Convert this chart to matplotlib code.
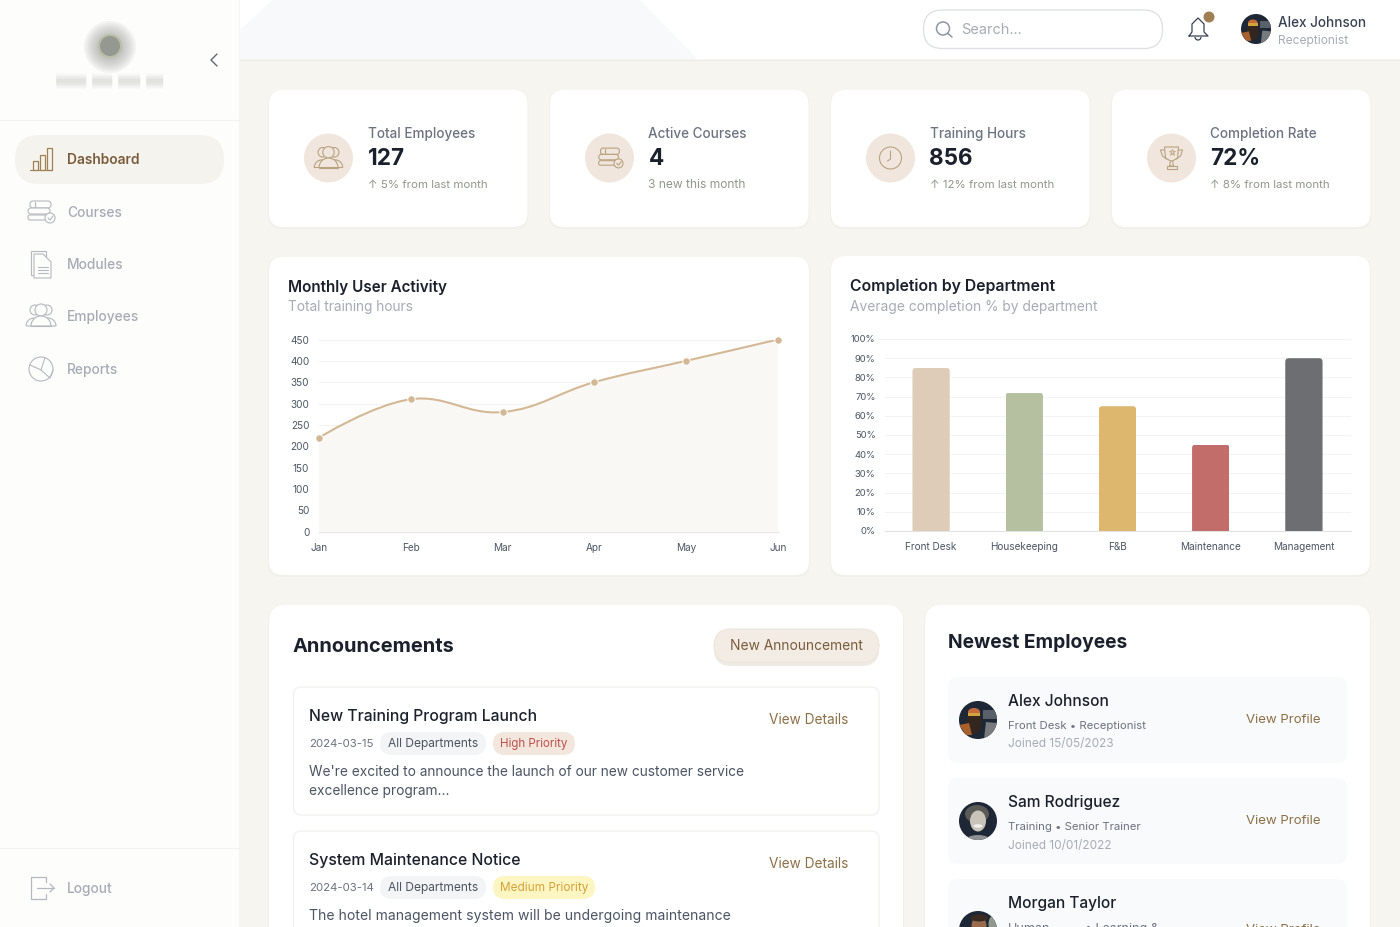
import matplotlib
matplotlib.use("Agg")
import matplotlib.pyplot as plt
import numpy as np
from matplotlib.patches import Circle, Ellipse, FancyBboxPatch, Polygon, Rectangle, Wedge, Arc
from matplotlib.path import Path
from matplotlib.patches import PathPatch

plt.rcParams["font.family"] = ["Inter", "DejaVu Sans"]

# chart data
months = ["Jan", "Feb", "Mar", "Apr", "May", "Jun"]
hours = [220, 310, 280, 350, 400, 450]
hour_ticks = [0, 50, 100, 150, 200, 250, 300, 350, 400, 450]

departments = ["Front Desk", "Housekeeping", "F&B", "Maintenance", "Management"]
completion = [85, 72, 65, 45, 90]
bar_colors = ["#dfccb8", "#b5c0a0", "#deb76f", "#c26d6a", "#6d6e72"]
pct_ticks = [0, 10, 20, 30, 40, 50, 60, 70, 80, 90, 100]

# page content
nav_items = ["Dashboard", "Courses", "Modules", "Employees", "Reports"]
stat_titles = ["Total Employees", "Active Courses", "Training Hours", "Completion Rate"]
stat_values = ["127", "4", "856", "72%"]
stat_notes = ["↑ 5% from last month", "3 new this month", "↑ 12% from last month", "↑ 8% from last month"]
employee_names = ["Alex Johnson", "Sam Rodriguez", "Morgan Taylor"]
employee_roles = ["Front Desk • Receptionist", "Training • Senior Trainer", "Human"]
employee_joined = ["Joined 15/05/2023", "Joined 10/01/2022", ""]

INK = "#1a202c"
GREY = "#6b7280"
PALE = "#a6abb6"
BROWN = "#8b6f47"
ICON = "#b9a27f"
NAV = "#b4b8c1"

fig = plt.figure(figsize=(14, 9.27), dpi=100, facecolor="#f6f5f0")
page = fig.add_axes([0, 0, 1, 1])
page.set_xlim(0, 1400)
page.set_ylim(927, 0)
page.axis("off")


def box(x0, y0, x1, y1, r, fc="white", ec="none", lw=1, z=1):
    p = FancyBboxPatch((x0, y0), x1 - x0, y1 - y0, boxstyle=f"round,pad=0,rounding_size={r}",
                       fc=fc, ec=ec, lw=lw, zorder=z)
    page.add_patch(p)
    return p


def card(x0, y0, x1, y1, r=14):
    box(x0 - 1, y0, x1 + 1, y1 + 2, r, fc="#f1f0ea", z=1)
    box(x0, y0, x1, y1, r, fc="white", z=2)


def label(x, y, s, px, color=INK, weight="normal", ha="left"):
    # inter sits about a pixel higher than the reference face
    page.text(x, y + 1, s, fontsize=px * 0.72, color=color, fontweight=weight, ha=ha, va="center",
              zorder=6, clip_on=True)


def stroke(xs, ys, color, lw=0.8, z=5):
    page.plot(xs, ys, color=color, lw=lw, zorder=z, solid_capstyle="round", solid_joinstyle="round")


def ring(x, y, r, color, lw=0.8, fc="none", z=5):
    page.add_patch(Circle((x, y), r, fc=fc, ec=color, lw=lw, zorder=z))


def icon_bars(x, y, c, s=1.0):
    stroke([x - 11 * s, x + 11 * s], [y + 11 * s, y + 11 * s], c)
    for dx, h in [(-8, 9), (-1, 15), (6, 22)]:
        page.add_patch(Rectangle((x + dx * s, y + 11 * s - h * s), 5 * s, h * s, fc="none", ec=c, lw=0.9, zorder=5))


def icon_books(x, y, c, s=1.0):
    bg = "#fdfdfb" if s == 1.0 else "#f0e6dd"
    box(x - 10 * s, y - 11 * s, x + 11 * s, y - 4 * s, 3 * s, fc=bg, ec=c, lw=0.8, z=5)
    box(x - 12 * s, y - 4 * s, x + 10 * s, y + 2 * s, 3 * s, fc=bg, ec=c, lw=0.8, z=5)
    box(x - 12 * s, y + 3 * s, x + 11 * s, y + 8 * s, 2 * s, fc=bg, ec=c, lw=0.8, z=5)
    stroke([x - 5 * s, x - 5 * s], [y - 10 * s, y - 5 * s], c)
    ring(x + 10 * s, y + 6 * s, 5 * s, c, fc=bg, z=6)
    stroke([x + 8 * s, x + 10 * s, x + 13 * s], [y + 6 * s, y + 8 * s, y + 4 * s], c, z=7)


def icon_doc(x, y, c):
    page.add_patch(Rectangle((x - 10, y - 13), 15, 24, fc="none", ec=c, lw=0.8, zorder=5))
    page.add_patch(Polygon([(x - 7, y - 10), (x + 2, y - 10), (x + 10, y - 2), (x + 10, y + 14), (x - 7, y + 14)],
                           fc="#fdfdfb", ec=c, lw=0.8, zorder=6))
    for dy in [3, 6, 9]:
        stroke([x - 3, x + 7], [y + dy, y + dy], c, z=7)


def icon_people(x, y, c, s=1.0):
    bg = "#fdfdfb" if s == 1.0 else "#f0e6dd"
    for dx, r in [(-6, 5), (6, 5), (0, 6)]:
        ring(x + dx * s, y - 6 * s, r * s, c, fc=bg)
    for dx, w in [(-7, 8), (7, 8), (0, 10)]:
        page.add_patch(Wedge((x + dx * s, y + 10 * s), w * s, 180, 360, fc=bg, ec=c, lw=0.8, zorder=6))
    stroke([x - 10 * s, x + 10 * s], [y + 10 * s, y + 10 * s], c, z=7)


def icon_pie(x, y, c):
    ring(x, y, 12, c)
    stroke([x - 11, x, x + 4], [y - 4, y + 1, y - 11.5], c)
    stroke([x, x + 9, x + 12], [y + 1, y + 9, y + 1], c)


def icon_clock(x, y, c):
    ring(x, y, 11, c)
    stroke([x, x, x - 3], [y - 7, y + 1, y + 3], c)


def icon_trophy(x, y, c):
    page.add_patch(Polygon([(x - 7, y - 11), (x + 7, y - 11), (x + 6, y), (x + 1, y + 3), (x - 1, y + 3), (x - 6, y)],
                           fc="none", ec=c, lw=0.8, zorder=5))
    stroke([x - 7, x - 11, x - 9, x - 5], [y - 8, y - 8, y - 2, y + 1], c)
    stroke([x + 7, x + 11, x + 9, x + 5], [y - 8, y - 8, y - 2, y + 1], c)
    stroke([x - 1, x - 2, x + 2, x + 1], [y + 3, y + 8, y + 8, y + 3], c)
    page.add_patch(Rectangle((x - 5, y + 8), 10, 3, fc="none", ec=c, lw=0.8, zorder=5))
    page.plot([x], [y - 6], marker="*", ms=5, mfc="none", mec=c, mew=0.6, zorder=5)


def avatar(x, y, r, kind):
    page.add_patch(Circle((x, y), r, fc="#1d2735", ec="none", zorder=5))
    clip = Circle((x, y), r, transform=page.transData)
    k = r / 19
    if kind == "alex":
        shapes = [Rectangle((x + 5 * k, y - 10 * k), 14 * k, 9 * k, fc="#59606a"),
                  Polygon([(x + 6 * k, y + 19 * k), (x + 8 * k, y + 2 * k), (x + 19 * k, y + 3 * k), (x + 19 * k, y + 19 * k)], fc="#777b7f"),
                  Ellipse((x - 4 * k, y + 2 * k), 15 * k, 24 * k, fc="#33261f"),
                  Ellipse((x - 4 * k, y - 8 * k), 12 * k, 8 * k, fc="#c66a3a"),
                  Rectangle((x - 10 * k, y - 7 * k), 12 * k, 3 * k, fc="#d2a23c"),
                  Polygon([(x - 19 * k, y + 5 * k), (x - 9 * k, y + 3 * k), (x - 6 * k, y + 15 * k), (x - 12 * k, y + 15 * k)], fc="#a8602c")]
    elif kind == "sam":
        shapes = [Ellipse((x - 1 * k, y - 7 * k), 24 * k, 18 * k, fc="#5a5a56"),
                  Ellipse((x, y), 16 * k, 21 * k, fc="#c9c4ba"),
                  Ellipse((x, y + 5 * k), 9 * k, 3.5 * k, fc="#f2f0ec"),
                  Ellipse((x, y + 20 * k), 26 * k, 12 * k, fc="#8f9094")]
    else:
        shapes = [Ellipse((x + 1 * k, y - 4 * k), 15 * k, 20 * k, fc="#9a6a4c"),
                  Ellipse((x + 1 * k, y - 12 * k), 17 * k, 7 * k, fc="#3a2a22"),
                  Ellipse((x + 15 * k, y - 6 * k), 9 * k, 16 * k, fc="#8f9a8c")]
    for sh in shapes:
        sh.set_zorder(6)
        page.add_patch(sh)
        sh.set_clip_path(clip)


# sidebar and top bar
page.add_patch(Rectangle((0, 0), 239, 927, fc="#fdfdfb", ec="none", zorder=0.5))
page.add_patch(Rectangle((240, 0), 1160, 59, fc="white", ec="none", zorder=0.5))
page.add_patch(Polygon([(240, 59), (240, 30), (272, 0), (640, 0), (697, 59)], fc="#f8f9fb", ec="none", zorder=0.6))
stroke([240, 1400], [59.5, 59.5], "#ebebe8", lw=0.8, z=0.7)
stroke([0, 239], [120, 120], "#f1f1f4", lw=0.8, z=0.7)
stroke([0, 239], [848, 848], "#f1f1f4", lw=0.8, z=0.7)

# blurred logo
for r in [26, 24, 22, 20, 18, 16, 14, 13]:
    page.add_patch(Circle((110, 47), r, fc="#a2a4a0", ec="none", alpha=0.11, zorder=2))
page.add_patch(Circle((110, 46), 12, fc="#b6bc9c", ec="none", alpha=0.7, zorder=2))
page.add_patch(Circle((110, 46), 10, fc="#92948e", ec="none", alpha=0.9, zorder=2))
for x0, x1 in [(56, 86), (92, 112), (118, 140), (146, 163)]:
    for w, a in [(16, 0.05), (13, 0.06), (10, 0.07), (7, 0.08), (4, 0.08)]:
        page.plot([x0, x1], [81, 81], color="#a8a8a4", lw=w * 0.72, alpha=a, solid_capstyle="butt", zorder=2)
stroke([217, 211, 217], [54, 60, 66], "#5f6773", lw=1.0)

box(15, 135, 224, 184, 24, fc="#f5f3ed", z=1)
nav_y = [159, 212, 264, 316, 369]
for name, y in zip(nav_items, nav_y):
    active = name == "Dashboard"
    label(67, y, name, 13.8, "#7a5c3c" if active else PALE, "semibold" if active else "medium")
icon_bars(41, 159, "#a08055")
icon_books(40, 212, NAV)
icon_doc(41, 264, NAV)
icon_people(41, 316, NAV)
icon_pie(41, 369, NAV)
label(67, 888, "Logout", 13.8, PALE, "medium")
stroke([46, 31, 31, 46], [877, 877, 899, 899], NAV, lw=0.9)
stroke([46, 46], [877, 882], NAV, lw=0.9)
stroke([46, 46], [894, 899], NAV, lw=0.9)
stroke([37, 54], [888, 888], NAV, lw=0.9)
stroke([50, 54, 50], [884, 888, 892], NAV, lw=0.9)

# header widgets
box(923.5, 10, 1162.5, 48.5, 19, fc="white", ec="#dddfe4", lw=0.9, z=2)
ring(943, 28.5, 6.5, "#8e96a3", lw=1.1)
stroke([948, 952], [33.5, 37], "#8e96a3", lw=1.1)
label(961, 29, "Search...", 14.5, PALE)
stroke([1189, 1192, 1192, 1198, 1204, 1204, 1208, 1189], [36, 32, 24, 18, 24, 32, 36, 36], "#374151", lw=0.9)
page.add_patch(Arc((1198, 37), 6, 6, theta1=0, theta2=180, ec="#374151", lw=0.9, zorder=5))
page.add_patch(Circle((1209, 17), 5.5, fc="#a07f55", ec="none", zorder=6))
avatar(1256, 29, 15, "alex")
label(1278, 22, "Alex Johnson", 13.5, "#374151", "medium")
label(1278, 40, "Receptionist", 12, PALE)

# stat cards
for i, x0 in enumerate([269, 550, 831, 1112]):
    card(x0, 90, x0 + 258.5, 227)
    cx = x0 + 59.5
    page.add_patch(Circle((cx, 158), 24.5, fc="#f0e6dd", ec="none", zorder=3))
    label(x0 + 98.5, 133, stat_titles[i], 13.5, GREY, "medium")
    label(x0 + 98.5, 158, stat_values[i], 22.5, INK, "bold")
    label(x0 + 98.5, 184, stat_notes[i], 11.5 if i != 1 else 12, "#8f978b")
icon_people(328.5, 158, ICON, 0.95)
icon_books(609.5, 158, ICON, 0.9)
icon_clock(890.5, 158, ICON)
icon_trophy(1171.5, 158, ICON)

# chart cards
card(269, 257, 809, 575)
card(831, 256, 1370, 575)
label(288, 286.5, "Monthly User Activity", 15.2, INK, "semibold")
label(288, 306.5, "Total training hours", 13.7, PALE)
label(850, 285.5, "Completion by Department", 15.8, INK, "semibold")
label(850, 305.5, "Average completion % by department", 13.8, PALE)


def px_axes(left, top, right, bottom):
    ax = fig.add_axes([left / 1400, 1 - bottom / 927, (right - left) / 1400, (bottom - top) / 927])
    ax.patch.set_alpha(0)
    for s in ax.spines.values():
        s.set_visible(False)
    return ax


def smooth_path(xv, yv, sx, sy, t=0.4):
    # same control points a chart.js line with tension 0.4 would get
    pts = np.column_stack([np.array(xv, float) * sx, np.array(yv, float) * sy])
    n = len(pts)
    verts = [pts[0]]
    codes = [Path.MOVETO]
    ctrl_next = pts[0]
    for i in range(1, n):
        cur = pts[i]
        if i < n - 1:
            d0 = np.linalg.norm(cur - pts[i - 1])
            d1 = np.linalg.norm(pts[i + 1] - cur)
            delta = pts[i + 1] - pts[i - 1]
            ctrl_prev = cur - delta * t * d0 / (d0 + d1)
            after = cur + delta * t * d1 / (d0 + d1)
        else:
            ctrl_prev = cur
            after = cur
        verts += [ctrl_next, ctrl_prev, cur]
        codes += [Path.CURVE4] * 3
        ctrl_next = after
    return np.array(verts) / [sx, sy], codes


# line chart
ax1 = px_axes(319, 339.5, 778, 531.5)
ax1.set_xlim(0, 5)
ax1.set_ylim(0, 450)
xpos = np.arange(len(months))
verts, codes = smooth_path(xpos, hours, 459 / 5, 192 / 450)
ax1.add_patch(PathPatch(Path(np.vstack([verts, [[xpos[-1], 0], [xpos[0], 0], verts[0]]]),
                        codes + [Path.LINETO, Path.LINETO, Path.CLOSEPOLY]),
                        fc="#faf8f4", ec="none", zorder=1))
ax1.add_patch(PathPatch(Path(verts, codes), fc="none", ec="#d4b896", lw=1.5, zorder=3))
ax1.plot(xpos, hours, ls="none", marker="o", ms=5.4, mfc="#d4b896", mec="white", mew=0.7, zorder=4, clip_on=False)
ax1.set_yticks(hour_ticks)
ax1.set_xticks(xpos)
ax1.set_xticklabels(months)
ax1.grid(axis="y", color="#f2f2f1", lw=0.7, zorder=0)
ax1.set_axisbelow(True)
ax1.spines["bottom"].set_visible(True)
ax1.spines["bottom"].set_color("#e6e6e6")
ax1.tick_params(axis="both", length=0, labelsize=7.2, labelcolor="#4b5563")
ax1.tick_params(axis="y", pad=7)
ax1.tick_params(axis="x", pad=8)

# bar chart
ax2 = px_axes(884.5, 339, 1350.5, 531)
ax2.set_xlim(-0.5, 4.5)
ax2.set_ylim(0, 100)
bars = ax2.bar(range(len(departments)), completion, width=0.4, color=bar_colors, zorder=3)
data_per_px_x = 5 / 466
data_per_px_y = 100 / 192
for bar in bars:
    rounded = FancyBboxPatch((bar.get_x(), -5), bar.get_width(), bar.get_height() + 5,
                             boxstyle=f"round,pad=0,rounding_size={3.5 * data_per_px_x}",
                             mutation_aspect=data_per_px_y / data_per_px_x,
                             transform=ax2.transData)
    bar.set_clip_path(rounded)
ax2.set_xticks(range(len(departments)))
ax2.set_xticklabels(departments)
ax2.set_yticks(pct_ticks)
ax2.set_yticklabels([f"{v}%" for v in pct_ticks])
ax2.grid(axis="y", color="#f3f3f2", lw=0.7, zorder=0)
ax2.set_axisbelow(True)
ax2.spines["bottom"].set_visible(True)
ax2.spines["bottom"].set_color("#e3e3e3")
ax2.tick_params(axis="x", length=0, labelsize=7.2, labelcolor="#4b5563", pad=8)
ax2.tick_params(axis="y", length=0, labelsize=6.8, labelcolor="#4b5563", pad=6.5)
stroke([878, 884.5], [339, 339], "#f3f3f2", lw=0.7)

# announcements
card(269, 605, 903, 960, 16)
label(293, 646, "Announcements", 20, INK, "bold")
box(714, 632, 879, 666, 17, fc="#eeebe5", z=3)
box(714, 629, 879, 662.5, 17, fc="#f2ece4", ec="#ece5da", lw=0.7, z=4)
label(796.5, 645.5, "New Announcement", 13.8, "#7a5c3c", "normal", "center")

box(293.5, 687, 879, 815, 8, fc="white", ec="#efefee", lw=0.8, z=3)
label(309, 715, "New Training Program Launch", 15.7, INK, "medium")
label(309, 743, "2024-03-15", 11.4, GREY)
box(380, 732, 486, 755, 11.5, fc="#f3f4f6", z=4)
label(388, 743, "All Departments", 12, "#4b5563")
box(493, 732, 575, 755, 11.5, fc="#f2e6dd", z=4)
label(500, 743, "High Priority", 11.6, "#c0504d")
label(309, 770.5, "We're excited to announce the launch of our new customer service", 13.7, "#4b5563")
label(309, 789.5, "excellence program...", 13.7, "#4b5563")
label(769, 718.5, "View Details", 13.6, BROWN)

box(293.5, 831, 879, 960, 8, fc="white", ec="#efefee", lw=0.8, z=3)
label(309, 859.5, "System Maintenance Notice", 15.8, INK, "medium")
label(309, 887, "2024-03-14", 11.4, GREY)
box(380, 876, 486, 899, 11.5, fc="#f3f4f6", z=4)
label(388, 887, "All Departments", 12, "#4b5563")
box(493, 876, 595, 899, 11.5, fc="#fdf6c2", z=4)
label(500, 887, "Medium Priority", 11.8, "#d4a23a")
label(309, 915, "The hotel management system will be undergoing maintenance", 14, "#4b5563")
label(769, 862.5, "View Details", 13.6, BROWN)

# newest employees
card(925, 605, 1370, 960, 16)
label(948, 641.5, "Newest Employees", 19.2, INK, "bold")
avatars = ["alex", "sam", "morgan"]
avatar_y = [720, 821, 930]
view_y = [719, 820, 929]
role_y = [725, 826, 928]
for i, y0 in enumerate([677, 778, 879]):
    box(948, y0, 1347, y0 + 86, 10, fc="#f9fafb", z=3)
    avatar(978, avatar_y[i], 19, avatars[i])
    label(1008, y0 + 23.5, employee_names[i], 15.5, INK, "medium")
    label(1008, role_y[i], employee_roles[i], 11.4 if i < 2 else 12.5, GREY)
    if employee_joined[i]:
        label(1008, y0 + 66.5, employee_joined[i], 11.8, PALE)
    label(1246, view_y[i], "View Profile", 13.2, BROWN)
label(1085, role_y[2], "• Learning &", 12.5, GREY)

fig.savefig("out.png", dpi=100, facecolor=fig.get_facecolor())
